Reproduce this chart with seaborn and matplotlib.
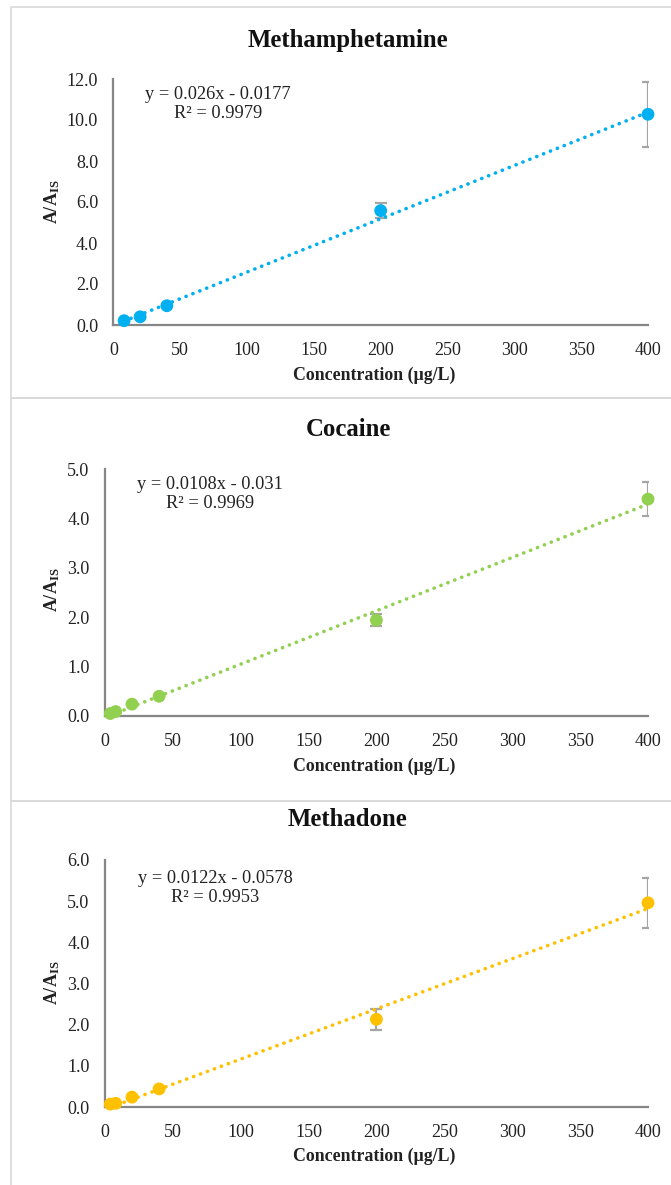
import matplotlib
matplotlib.use("Agg")
import matplotlib.pyplot as plt
from matplotlib.patches import Rectangle
from matplotlib.ticker import FormatStrFormatter, MultipleLocator
import numpy as np
import pandas as pd
import seaborn as sns

W, H = 671, 1185

DRUGS = ["Methamphetamine", "Cocaine", "Methadone"]
COLORS = ["#00B0F0", "#92D050", "#FFC000"]

METH_X = [8, 20, 40, 200, 400]
METH_Y = [0.21, 0.40, 0.94, 5.58, 10.28]
METH_ERR = [0.0, 0.0, 0.0, 0.37, 1.58]

COC_X = [4, 8, 20, 40, 200, 400]
COC_Y = [0.05, 0.09, 0.24, 0.40, 1.94, 4.39]
COC_ERR = [0.0, 0.0, 0.0, 0.0, 0.12, 0.34]

MTD_X = [4, 8, 20, 40, 200, 400]
MTD_Y = [0.07, 0.09, 0.24, 0.44, 2.13, 4.96]
MTD_ERR = [0.0, 0.0, 0.0, 0.0, 0.26, 0.60]

SLOPES = [0.026, 0.0108, 0.0122]
INTERCEPTS = [-0.0177, -0.031, -0.0578]
EQUATIONS = ["y = 0.026x - 0.0177\nR² = 0.9979",
             "y = 0.0108x - 0.031\nR² = 0.9969",
             "y = 0.0122x - 0.0578\nR² = 0.9953"]
Y_MAX = [12.0, 5.0, 6.0]
Y_STEP = [2.0, 1.0, 1.0]

# pixel layout: (left, right, top, bottom) of each axes
AXES_PX = [(113.4, 648, 79, 325), (104.8, 648, 469, 716), (104.8, 648, 860, 1107)]
TITLE_Y = [40, 430, 820]
XLABEL_Y = [375, 766, 1156]
YLABEL_Y = [202, 590, 983]
EQ_POS = [(218, 104), (210, 494), (215, 888)]
PANELS = [(7, 398), (398, 801), (801, 1190)]


def fx(px):
    return px / W


def fy(py):
    return 1 - py / H


sns.set_theme(style="white")
plt.rcParams["font.family"] = ["Liberation Serif", "DejaVu Serif"]
plt.rcParams["mathtext.fontset"] = "custom"
plt.rcParams["mathtext.rm"] = "Liberation Serif"
plt.rcParams["mathtext.bf"] = "Liberation Serif:bold"

fig = plt.figure(figsize=(W / 100, H / 100), dpi=100)
fig.patch.set_facecolor("white")

for top, bottom in PANELS:
    fig.patches.append(Rectangle((fx(11), fy(bottom)), fx(W + 10 - 11), (bottom - top) / H,
                                 transform=fig.transFigure, fill=False,
                                 edgecolor="#d9d9d9", lw=1.2))

data = [(METH_X, METH_Y, METH_ERR), (COC_X, COC_Y, COC_ERR), (MTD_X, MTD_Y, MTD_ERR)]

for i, (xs, ys, errs) in enumerate(data):
    l, r, t, b = AXES_PX[i]
    ax = fig.add_axes([fx(l), fy(b), (r - l) / W, (b - t) / H])
    df = pd.DataFrame({"conc": xs, "ratio": ys, "err": errs})

    ax.errorbar(df["conc"], df["ratio"], yerr=df["err"], fmt="none", ecolor="#a6a6a6",
                elinewidth=1.6, capsize=4, capthick=1.6, zorder=2)

    xfit = np.array([min(xs), max(xs)], dtype=float)
    fit = pd.DataFrame({"conc": xfit, "ratio": SLOPES[i] * xfit + INTERCEPTS[i]})
    sns.lineplot(data=fit, x="conc", y="ratio", color=COLORS[i], lw=2.6,
                 linestyle=(0, (0.05, 2.0)), dash_capstyle="round", ax=ax, zorder=3)

    sns.scatterplot(data=df, x="conc", y="ratio", color=COLORS[i], s=85,
                    edgecolor="none", ax=ax, zorder=4, clip_on=False)

    ax.set_xlim(0, 400)
    ax.set_ylim(0, Y_MAX[i])
    ax.xaxis.set_major_locator(MultipleLocator(50))
    ax.yaxis.set_major_locator(MultipleLocator(Y_STEP[i]))
    ax.yaxis.set_major_formatter(FormatStrFormatter("%.1f"))
    ax.tick_params(length=0, labelsize=13, labelcolor="#222222")
    ax.tick_params(axis="y", pad=11)
    ax.tick_params(axis="x", pad=12)
    for side in ["top", "right"]:
        ax.spines[side].set_visible(False)
    for side in ["left", "bottom"]:
        ax.spines[side].set_color("#868686")
        ax.spines[side].set_linewidth(1.6)
    ax.set_xlabel("")
    ax.set_ylabel("")
    ax.set_facecolor("none")

    fig.text(fx(348), fy(TITLE_Y[i]), DRUGS[i], ha="center", va="center",
             fontsize=17.8, fontweight="bold", color="#111111")
    fig.text(fx(374), fy(XLABEL_Y[i]), "Concentration (µg/L)", ha="center", va="center",
             fontsize=12.9, fontweight="bold", color="#222222")
    fig.text(fx(52), fy(YLABEL_Y[i]), r"$\mathbf{A/A_{IS}}$", ha="center", va="center",
             rotation=90, fontsize=13, color="#222222")
    fig.text(fx(EQ_POS[i][0]), fy(EQ_POS[i][1]), EQUATIONS[i], ha="center", va="center",
             fontsize=13.2, color="#222222", linespacing=1.1)

fig.savefig("out.png", dpi=100)
